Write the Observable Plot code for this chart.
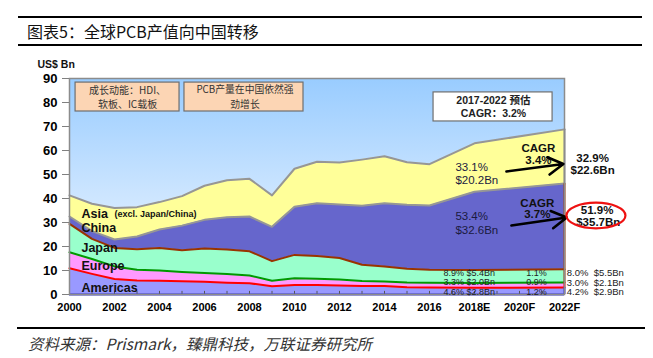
<!DOCTYPE html>
<html><head><meta charset="utf-8">
<script src="https://cdn.jsdelivr.net/npm/d3@7"></script>
<script src="https://cdn.jsdelivr.net/npm/@observablehq/plot@0.6"></script>
<style>
body{margin:0;width:653px;height:358px;position:relative;background:#fff;overflow:hidden;font-family:"Liberation Sans","Noto Sans CJK SC",sans-serif;}
#title{position:absolute;left:18px;top:16px;width:624px;height:26px;border-top:2px solid #000;border-bottom:2px solid #000;}
#title span{position:absolute;left:9px;top:0;line-height:27px;font-size:16px;font-family:"Noto Sans CJK SC",sans-serif;color:#111;}
#chart{position:absolute;left:0;top:48px;}
#src{position:absolute;left:17px;top:327px;width:628px;border-top:2px solid #000;}
#src span{position:absolute;left:11px;top:3px;font-size:15.5px;font-style:italic;color:#333;font-family:"Noto Sans CJK SC",sans-serif;white-space:nowrap;}
</style></head>
<body>
<div id="title"><span>图表5：全球PCB产值向中国转移</span></div>
<div id="chart"></div>
<div id="src"><span>资料来源：Prismark，臻鼎科技，万联证券研究所</span></div>
<script>
const years    = [2000,2001,2002,2003,2004,2005,2006,2007,2008,2009,2010,2011,2012,2013,2014,2015,2016,2018,2022];
const americas = [10.9,8.6,6.5,5.8,5.7,5.5,5.3,4.9,4.7,3.4,4.0,4.0,3.8,3.5,3.5,3.0,2.9,2.8,2.9];
const europe   = [6.7,6.2,5.2,4.5,4.3,3.9,3.7,3.6,3.2,2.3,2.8,2.6,2.5,2.1,1.9,2.0,2.0,2.0,2.1];
const japan    = [11.8,8.4,7.7,8.6,9.4,9.0,10.2,10.2,10.1,8.2,9.7,9.4,8.9,6.8,6.3,5.7,5.4,5.4,5.5];
const china    = [3.1,3.2,3.5,5.3,7.7,10.3,11.9,13.5,14.5,14.3,20.1,22.0,22.3,24.6,26.3,26.7,26.8,32.6,35.7];
const asia     = [8.8,11.4,13.1,12.2,11.4,12.3,14.2,15.4,15.7,13.1,15.8,17.3,17.5,19.2,19.6,17.7,17.2,20.2,22.6];
const regions  = ["Americas","Europe","Japan","China","Asia"];
const xTickYears  = [2000,2002,2004,2006,2008,2010,2012,2014,2016,2018,2020,2022];
const xTickLabels = ["2000","2002","2004","2006","2008","2010","2012","2014","2016","2018E","2020F","2022F"];
const yTicks = [0,10,20,30,40,50,60,70,80,90];

const series = {Americas:americas, Europe:europe, Japan:japan, China:china, Asia:asia};
const fillOf = {Americas:"#9999ff", Europe:"#ff99ff", Japan:"#99ffcc", China:"#6666cc", Asia:"#ffff99"};
const lineOf = {Americas:"#ff0000", Europe:"#009900", Japan:"#993300", China:"#969696", Asia:"#969696"};
const edgeOf = {Americas:"#3333cc", Europe:"#ff0000", Japan:"#993300", China:"#993300", Asia:"#969696"};

const rows = [];
years.forEach((yr, i) => {
  let base = 0;
  for (const r of regions) {
    const v = series[r][i];
    rows.push({year: yr, region: r, value: v, y1: base, y2: base + v});
    base += v;
  }
});
const tickLabel = new Map(xTickYears.map((y, i) => [y, xTickLabels[i]]));
const allYears = d3.range(2000, 2023);
const F = "Liberation Sans, Noto Sans CJK SC, sans-serif";
const CJK = "Noto Sans CJK SC, sans-serif";

const txt = (arr, o) => Plot.text(arr, {x: "x", y: "y", text: "t", fontFamily: F, fill: "#111", ...o});

const plot = Plot.plot({
  width: 653, height: 278,
  marginLeft: 69, marginRight: 89, marginTop: 30, marginBottom: 32,
  x: {domain: [2000, 2022]},
  y: {domain: [0, 90]},
  style: {fontFamily: F, background: "transparent", overflow: "visible"},
  marks: [
    Plot.frame({fill: "url(#bgGrad)", stroke: "none"}),
    Plot.areaY(rows, {x: "year", y1: "y1", y2: "y2", z: "region", fill: d => fillOf[d.region]}),
    Plot.lineY(rows, {x: "year", y: "y2", z: "region", stroke: d => lineOf[d.region], strokeWidth: 2}),
    Plot.ruleX(rows.filter(d => d.year === 2022), {x: "year", y1: "y1", y2: "y2", stroke: d => edgeOf[d.region], strokeWidth: 2}),
    Plot.ruleX(allYears, {x: d => d, y1: 0, y2: 1.3, stroke: "#555", strokeWidth: 1}),
    Plot.ruleY([0], {stroke: "#3333cc", strokeWidth: 2}),
    Plot.frame({stroke: "#8c8c8c", strokeWidth: 1.5}),
    Plot.axisY({ticks: yTicks, tickSize: 7, tickPadding: 5, fontSize: 13, fontWeight: "bold", label: null, stroke: "#808080"}),
    Plot.axisX({ticks: xTickYears, tickFormat: d => tickLabel.get(d), tickSize: 0, tickPadding: 9, fontSize: 11, fontWeight: "bold", label: null}),
    Plot.text(["US$ Bn"], {frameAnchor: "top-left", dx: -32, dy: -18, textAnchor: "start", fontSize: 10.5, fontWeight: "bold", fill: "#111"}),
    // boxes
    Plot.rect([{x1: 2000.27, x2: 2004.89, y1: 76.25, y2: 88.3}, {x1: 2005.11, x2: 2010.4, y1: 76.25, y2: 88.3}],
      {x1: "x1", x2: "x2", y1: "y1", y2: "y2", fill: "#fcd5b4", stroke: "#6f6f6f", strokeWidth: 1.2}),
    Plot.rect([{x1: 2016.18, x2: 2021.47, y1: 72.1, y2: 84.2}],
      {x1: "x1", x2: "x2", y1: "y1", y2: "y2", fill: "#ffffff", stroke: "#6f6f6f", strokeWidth: 1.2}),
    txt([{x: 2002.58, y: 85.0, t: "成长动能：HDI、"}, {x: 2002.58, y: 79.0, t: "软板、IC载板"}], {fontSize: 10, fontFamily: CJK, fill: "#333"}),
    txt([{x: 2007.8, y: 85.1, t: "PCB产量在中国依然强"}, {x: 2007.8, y: 79.0, t: "劲增长"}], {fontSize: 9.8, fontFamily: CJK, fill: "#333"}),
    txt([{x: 2018.84, y: 80.6, t: "2017-2022 预估"}, {x: 2018.84, y: 75.5, t: "CAGR：3.2%"}], {fontSize: 10.5, fontWeight: "bold", fill: "#222"}),
    // region labels
    txt([{x: 2000.53, y: 33.75, t: "Asia"}, {x: 2000.53, y: 27.6, t: "China"}, {x: 2000.53, y: 19.2, t: "Japan"},
         {x: 2000.53, y: 11.7, t: "Europe"}, {x: 2000.53, y: 2.9, t: "Americas"}],
        {textAnchor: "start", fontSize: 12.5, fontWeight: "bold", fill: "#111"}),
    txt([{x: 2002.0, y: 33.5, t: "(excl. Japan/China)"}], {textAnchor: "start", fontSize: 9, fontWeight: "bold", fill: "#111"}),
    // share labels in chart
    txt([{x: 2017.15, y: 53.1, t: "33.1%"}, {x: 2017.15, y: 47.7, t: "$20.2Bn"},
         {x: 2017.15, y: 32.4, t: "53.4%"}, {x: 2017.15, y: 26.9, t: "$32.6Bn"}],
        {textAnchor: "start", fontSize: 11.5, fill: "#1a1a40"}),
    txt([{x: 2020.84, y: 60.8, t: "CAGR"}, {x: 2020.84, y: 55.8, t: "3.4%"},
         {x: 2020.79, y: 38.0, t: "CAGR"}, {x: 2020.79, y: 33.3, t: "3.7%"}],
        {fontSize: 11.5, fontWeight: "bold", fill: "#111"}),
    txt([{x: 2016.62, y: 9.0, t: "8.9% $5.4Bn"}, {x: 2016.62, y: 5.0, t: "3.3% $2.0Bn"}, {x: 2016.62, y: 1.0, t: "4.6% $2.8Bn"}],
        {textAnchor: "start", fontSize: 9, fill: "#222"}),
    txt([{x: 2020.76, y: 9.0, t: "1.1%"}, {x: 2020.76, y: 5.0, t: "0.9%"}, {x: 2020.76, y: 1.0, t: "1.2%"}],
        {fontSize: 9, fill: "#222"}),
    // outside right
    txt([{x: 2023.25, y: 56.7, t: "32.9%"}, {x: 2023.25, y: 51.7, t: "$22.6Bn"},
         {x: 2023.45, y: 35.0, t: "51.9%"}, {x: 2023.5, y: 30.0, t: "$35.7Bn"}],
        {fontSize: 11.5, fontWeight: "bold", fill: "#111"}),
    txt([{x: 2022.1, y: 9.0, t: "8.0%\u00a0\u00a0$5.5Bn"}, {x: 2022.1, y: 5.0, t: "3.0%\u00a0\u00a0$2.1Bn"}, {x: 2022.1, y: 1.0, t: "4.2%\u00a0\u00a0$2.9Bn"}],
        {textAnchor: "start", fontSize: 9.5, fill: "#222"}),
    // arrows
    Plot.arrow([{x1: 2019.42, y1: 51.25, x2: 2021.95, y2: 54.4}, {x1: 2019.64, y1: 28.75, x2: 2022.1, y2: 32.1}],
      {x1: "x1", y1: "y1", x2: "x2", y2: "y2", stroke: "#000", strokeWidth: 2.6, headLength: 10})
  ]
});

const svg = plot.tagName.toLowerCase() === "svg" ? plot : plot.querySelector("svg");
svg.insertAdjacentHTML("afterbegin",
  '<defs><linearGradient id="bgGrad" x1="0" y1="0" x2="0" y2="1">' +
  '<stop offset="0" stop-color="#99ccff"/><stop offset="0.6" stop-color="#d2e8ff"/><stop offset="1" stop-color="#e8f3ff"/>' +
  '</linearGradient></defs>');
// red ellipse around China share
const sx = plot.scale("x"), sy = plot.scale("y");
const cx = sx.apply(2023.42), cy = sy.apply(32.7);
const ell = document.createElementNS("http://www.w3.org/2000/svg", "ellipse");
ell.setAttribute("cx", cx); ell.setAttribute("cy", cy);
ell.setAttribute("rx", 29.5); ell.setAttribute("ry", 12.8);
ell.setAttribute("fill", "none"); ell.setAttribute("stroke", "#ee1111"); ell.setAttribute("stroke-width", 2.2);
svg.appendChild(ell);
document.getElementById("chart").appendChild(plot);
</script>
</body></html>
